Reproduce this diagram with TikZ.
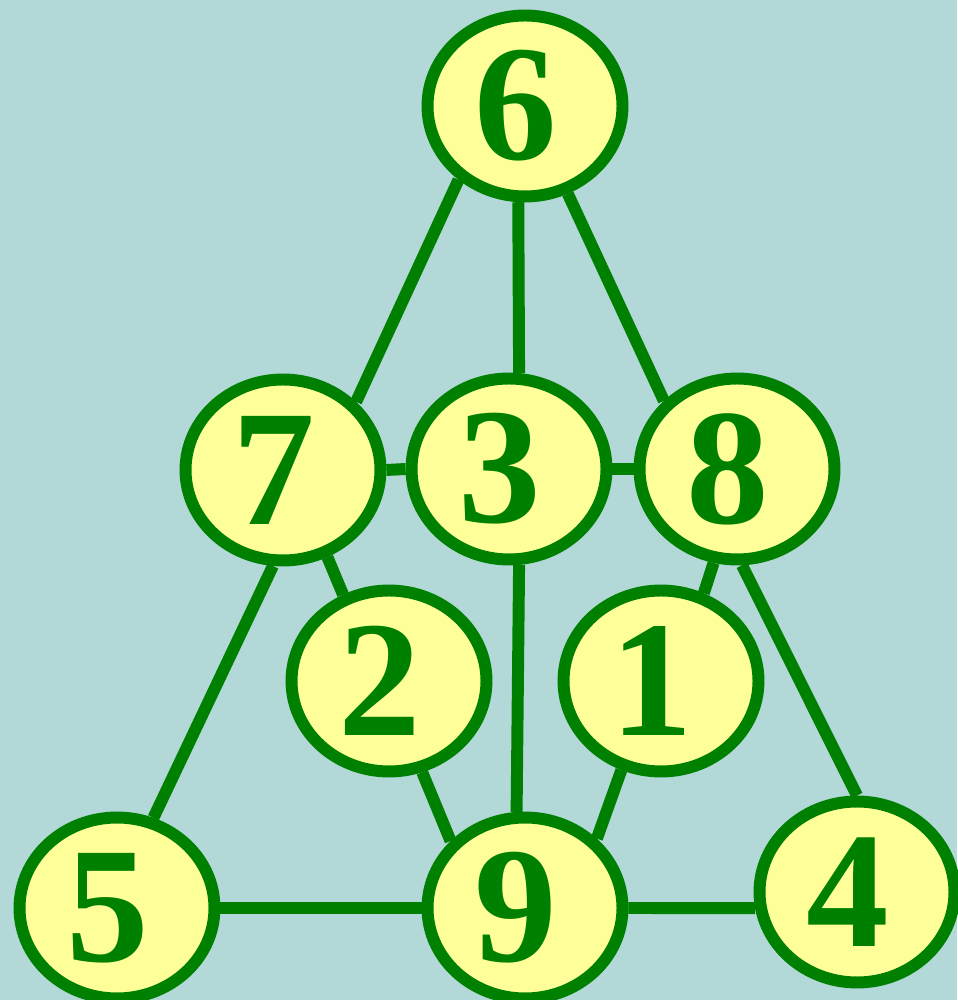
\documentclass[tikz,border=0pt]{standalone}
\usepackage{fontspec}
\setmainfont{Liberation Serif}
\usetikzlibrary{shapes.geometric}

\begin{document}
\begin{tikzpicture}[x=0.02cm,y=0.02cm]
\definecolor{boardbg}{RGB}{179,216,216}
\definecolor{discfill}{RGB}{255,255,153}
\definecolor{discgreen}{RGB}{0,128,0}
\tikzset{
  disc/.style={ellipse, draw=discgreen, fill=discfill, line width=6.8pt,
    minimum width=3.9cm, minimum height=3.62cm, inner sep=0pt,
    text=discgreen, font=\fontsize{94}{94}\selectfont\bfseries,
    execute at begin node={\kern-0.36cm}},
  link/.style={draw=discgreen, line width=6.8pt}
}

\fill[boardbg] (0,0) rectangle (957,1000);
\useasboundingbox (0,0) rectangle (957,1000);

\node[disc] (n6) at (525,894) {6};
\node[disc] (n7) at (283,530) {7};
\node[disc] (n3) at (509,531) {3};
\node[disc] (n8) at (737,531) {8};
\node[disc] (n2) at (389,319) {2};
\node[disc] (n1) at (661,319) {1};
\node[disc] (n5) at (117,92) {5};
\node[disc] (n9) at (525,92) {9};
\node[disc] (n4) at (857,108) {4};

\foreach \from/\to in {n6.228/n7.43, n6.266/n3.84, n6.296/n8.137,
    n7.east/n3.west, n3.east/n8.west, n7.264/n5.68, n7.297/n2.118,
    n2.290/n9.138, n3.276/n9.95, n8.256/n1.64, n1.246/n9.44,
    n8.273/n4.90, n5.east/n9.west, n9.east/n4.189} {
  \draw[link] (\from) -- (\to);
}
\end{tikzpicture}
\end{document}
